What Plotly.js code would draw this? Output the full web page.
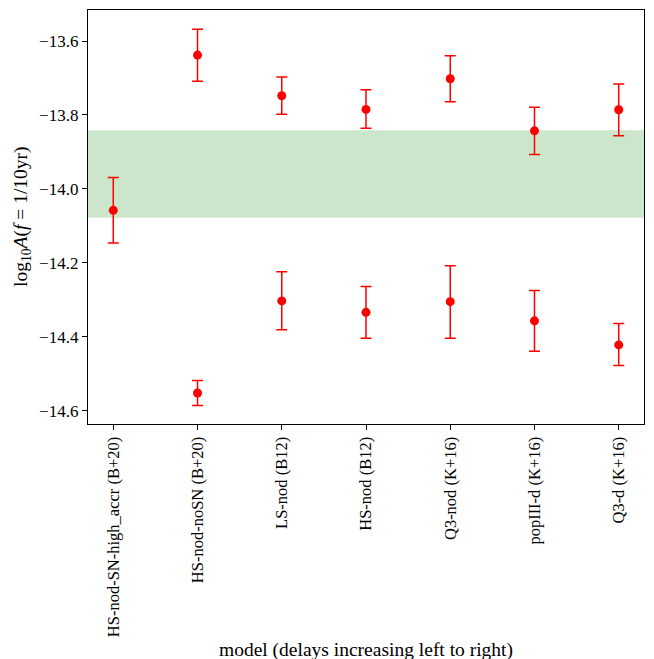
<!DOCTYPE html>
<html>
<head>
<meta charset="utf-8">
<script src="https://cdn.plot.ly/plotly-3.0.1.min.js"></script>
<style>html,body{margin:0;padding:0;background:#fff;}#chart{width:654px;height:659px;}</style>
</head>
<body>
<div id="chart"></div>
<script>
const models = ["HS-nod-SN-high_accr (B+20)", "HS-nod-noSN (B+20)", "LS-nod (B12)", "HS-nod (B12)", "Q3-nod (K+16)", "popIII-d (K+16)", "Q3-d (K+16)"];
const upperVals = [-14.058, -13.638, -13.748, -13.785, -13.702, -13.843, -13.786];
const upperErrPlus = [0.089, 0.070, 0.051, 0.053, 0.062, 0.064, 0.070];
const upperErrMinus = [0.088, 0.071, 0.050, 0.051, 0.062, 0.064, 0.070];
const lowerVals = [null, -14.552, -14.303, -14.334, -14.305, -14.357, -14.422];
const lowerErrPlus = [0, 0.034, 0.079, 0.070, 0.097, 0.082, 0.058];
const lowerErrMinus = [0, 0.034, 0.078, 0.070, 0.099, 0.082, 0.056];
const bandLow = -14.078;
const bandHigh = -13.841;

const idx = models.map((m, i) => i);
function errTrace(vals, ep, em) {
  return {
    x: idx, y: vals, type: 'scatter', mode: 'markers',
    marker: {color: '#ff0000', size: 9},
    error_y: {type: 'data', symmetric: false, array: ep, arrayminus: em,
              color: '#ff0000', thickness: 1.5, width: 5.5},
    showlegend: false, hoverinfo: 'skip'
  };
}
const data = [
  errTrace(upperVals, upperErrPlus, upperErrMinus),
  errTrace(lowerVals, lowerErrPlus, lowerErrMinus)
];
const font = {family: 'Liberation Serif, DejaVu Serif, serif', color: '#000'};
const layout = {
  width: 654, height: 659,
  margin: {l: 88, r: 10, t: 10, b: 235},
  paper_bgcolor: '#fff', plot_bgcolor: '#fff',
  font: Object.assign({size: 16}, font),
  xaxis: {
    range: [-0.3, 6.3], tickmode: 'array', tickvals: idx, ticktext: models,
    tickangle: -90, ticks: 'outside', ticklen: 5, tickcolor: '#000',
    showgrid: false, zeroline: false, showline: true, mirror: true,
    linecolor: '#000', linewidth: 1.2,
    tickfont: Object.assign({size: 16.5}, font),
    automargin: false
  },
  yaxis: {
    range: [-14.636, -13.516], tickvals: [-14.6, -14.4, -14.2, -14.0, -13.8, -13.6],
    tickformat: '.1f', ticks: 'outside', ticklen: 5, tickcolor: '#000',
    showgrid: false, zeroline: false, showline: true, mirror: true,
    linecolor: '#000', linewidth: 1.2,
    tickfont: Object.assign({size: 17}, font),
    automargin: false
  },
  annotations: [
    {text: 'model (delays increasing left to right)', xref: 'paper', yref: 'paper',
     x: 0.5, y: -0.546, xanchor: 'center', yanchor: 'middle', showarrow: false,
     font: Object.assign({size: 19.5}, font)},
    {text: 'log<sub>10</sub><i>A</i>(<i>f</i> = 1/10yr)', xref: 'paper', yref: 'paper',
     x: -0.1187, y: 0.5, xanchor: 'center', yanchor: 'middle', textangle: -90, showarrow: false,
     font: Object.assign({size: 19.5}, font)}
  ],
  shapes: [{
    type: 'rect', xref: 'paper', yref: 'y', x0: 0, x1: 1, y0: bandLow, y1: bandHigh,
    fillcolor: 'rgba(0,128,0,0.2)', line: {width: 0}, layer: 'below'
  }]
};
Plotly.newPlot('chart', data, layout, {displayModeBar: false, staticPlot: true});
</script>
</body>
</html>
